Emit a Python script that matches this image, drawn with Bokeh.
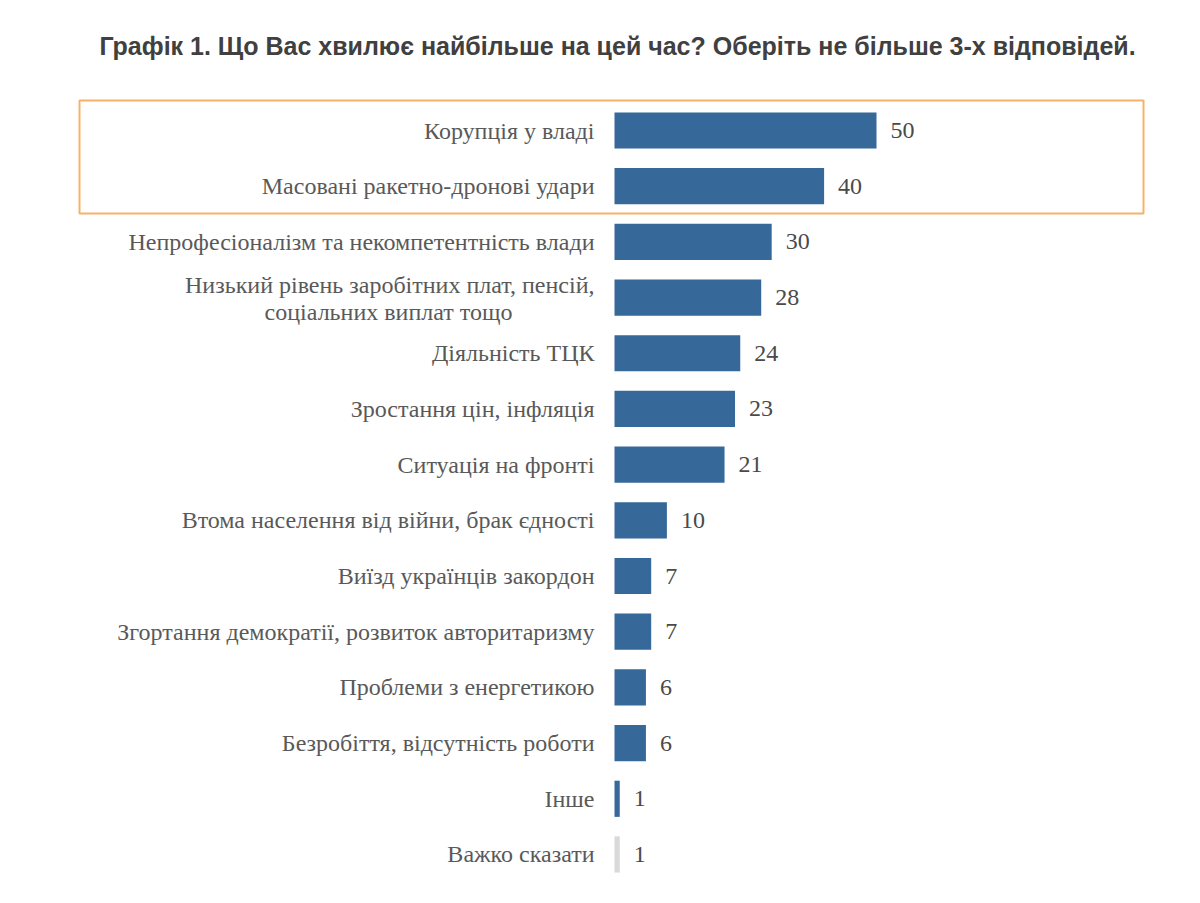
from bokeh.plotting import figure
from bokeh.models import Range1d, ColumnDataSource, BoxAnnotation, Label
from bokeh.core.properties import value
from bokeh.embed import file_html
from bokeh.resources import INLINE

title = "Графік 1. Що Вас хвилює найбільше на цей час? Оберіть не більше 3-х відповідей."
categories = [
    "Корупція у владі",
    "Масовані ракетно-дронові удари",
    "Непрофесіоналізм та некомпетентність влади",
    "Низький рівень заробітних плат, пенсій,\nсоціальних виплат тощо",
    "Діяльність ТЦК",
    "Зростання цін, інфляція",
    "Ситуація на фронті",
    "Втома населення від війни, брак єдності",
    "Виїзд українців закордон",
    "Згортання демократії, розвиток авторитаризму",
    "Проблеми з енергетикою",
    "Безробіття, відсутність роботи",
    "Інше",
    "Важко сказати",
]
values = [50, 40, 30, 28, 24, 23, 21, 10, 7, 7, 6, 6, 1, 1]
bar_colors = ["#36699a"] * 13 + ["#d9d9d9"]
highlighted = [0, 1]

TXT = "#595959"
n = len(categories)
px_per_unit = 5.24
row_px = 55.69
W, H = 1184, 887
zero_px = 614
first_row_px = 130

x0 = -zero_px / px_per_unit
x1 = x0 + W / px_per_unit
ytop = -first_row_px / row_px
ybot = ytop + H / row_px

p = figure(width=W, height=H, output_backend="svg", toolbar_location=None,
           x_range=Range1d(x0, x1), y_range=Range1d(ybot, ytop),
           min_border=0, outline_line_color=None)
p.xaxis.visible = False
p.yaxis.visible = False
p.xgrid.visible = False
p.ygrid.visible = False
p.background_fill_color = "white"
p.border_fill_color = "white"

idx = list(range(n))
src = ColumnDataSource(dict(y=idx, v=values, c=bar_colors,
                            vl=[str(v) for v in values]))
p.hbar(y="y", left=0, right="v", height=0.65, fill_color="c",
       line_color=None, source=src)

p.text(x="v", y="y", text="vl", source=src, x_offset=14,
       text_align="left", text_baseline="middle",
       text_font=value("Liberation Serif"), text_font_size="24px",
       text_color="#4a4a4a")

# category labels
single_y, single_t = [], []
first_y, first_t, second_y, second_t = [], [], [], []
for i, c in enumerate(categories):
    if "\n" in c:
        a, b = c.split("\n")
        first_y.append(i); first_t.append(a)
        second_y.append(i); second_t.append(b)
    else:
        single_y.append(i); single_t.append(c)

lab_kw = dict(text_baseline="middle", text_font=value("Liberation Serif"),
              text_font_size="24px", text_color=TXT)
p.text(x=[0] * len(single_y), y=single_y, text=single_t, x_offset=-20,
       text_align="right", **lab_kw)
p.text(x=[0] * len(first_y), y=first_y, text=first_t, x_offset=-20,
       y_offset=-13, text_align="right", **lab_kw)
p.text(x=[0] * len(second_y), y=second_y, text=second_t, x_offset=-226,
       y_offset=14, text_align="center", **lab_kw)

# highlight box around first two rows
box = BoxAnnotation(left=79, right=1143, left_units="screen", right_units="screen",
                    top=highlighted[0] - 0.54, bottom=highlighted[-1] + 0.49,
                    fill_alpha=0, line_color="#f7b26a", line_alpha=1.0,
                    line_width=2)
p.add_layout(box)

p.add_layout(Label(x=617, y=H - 45, x_units="screen", y_units="screen",
                   text=title, text_align="center", text_baseline="alphabetic",
                   text_font="Liberation Sans", text_font_style="bold",
                   text_font_size="25px", text_color="#404040"))

open("out.html", "w").write(file_html(p, INLINE))
